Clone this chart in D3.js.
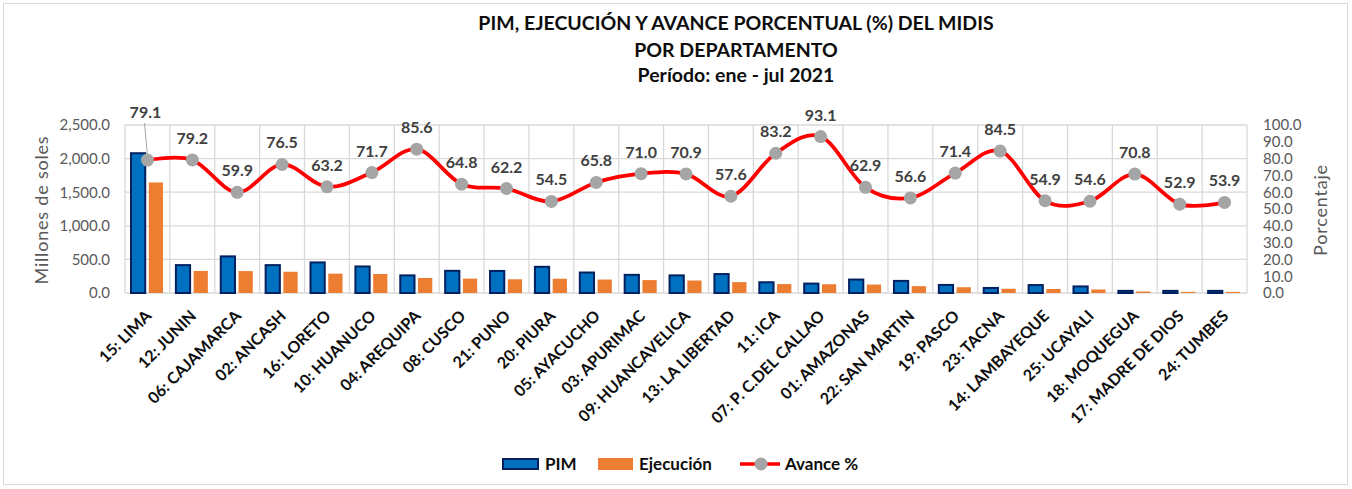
<!DOCTYPE html>
<html>
<head>
<meta charset="utf-8">
<script src="https://cdn.jsdelivr.net/npm/d3@7"></script>
<style>
  body { margin: 0; background: #fff; }
  text { font-family: Lato, "Open Sans", sans-serif; }
</style>
</head>
<body>
<div id="chart"></div>
<script>
var w = 1352;
var h = 489;

var depts = ["15: LIMA", "12: JUNIN", "06: CAJAMARCA", "02: ANCASH", "16: LORETO", "10: HUANUCO",
    "04: AREQUIPA", "08: CUSCO", "21: PUNO", "20: PIURA", "05: AYACUCHO", "03: APURIMAC",
    "09: HUANCAVELICA", "13: LA LIBERTAD", "11: ICA", "07: P. C.DEL CALLAO", "01: AMAZONAS",
    "22: SAN MARTIN", "19: PASCO", "23: TACNA", "14: LAMBAYEQUE", "25: UCAYALI", "18: MOQUEGUA",
    "17: MADRE DE DIOS", "24: TUMBES"];
// millones de soles
var pim = [2080, 415, 545, 415, 455, 395, 262, 330, 328, 390, 305, 270, 262, 282, 160, 140, 200,
    180, 120, 75, 118, 98, 32, 32, 32];
var ejecucion = [1645, 328, 326, 316, 288, 283, 224, 214, 204, 212, 200, 192, 186, 162, 133, 130,
    126, 102, 86, 63, 60, 52, 22, 17, 17];
// porcentaje
var avance = [79.1, 79.2, 59.9, 76.5, 63.2, 71.7, 85.6, 64.8, 62.2, 54.5, 65.8, 71.0, 70.9, 57.6,
    83.2, 93.1, 62.9, 56.6, 71.4, 84.5, 54.9, 54.6, 70.8, 52.9, 53.9];
var leftTicks = [0, 500, 1000, 1500, 2000, 2500];
var rightTicks = [0, 10, 20, 30, 40, 50, 60, 70, 80, 90, 100];
var titleLines = ["PIM, EJECUCIÓN Y AVANCE PORCENTUAL (%) DEL MIDIS", "POR DEPARTAMENTO", "Período: ene - jul 2021"];

var pLeft = 125, pRight = 1247, pTop = 125, pBottom = 293;
var fmtL = d3.format(",.1f");
var fmtR = d3.format(".1f");

var svg = d3.select("#chart").append("svg")
    .attr("width", w)
    .attr("height", h);

// borde del grafico
svg.append("rect")
    .attr("x", 3.5).attr("y", 3.5)
    .attr("width", w - 8).attr("height", h - 8)
    .attr("fill", "none")
    .attr("stroke", "#d9d9d9");

var x = d3.scaleBand().domain(depts).range([pLeft, pRight]);
var xSub = d3.scaleBand().domain(["pim", "eje"]).range([6, 38]).paddingInner(0.2);
var yL = d3.scaleLinear().domain([0, 2500]).range([pBottom, pTop]);
var yR = d3.scaleLinear().domain([0, 100]).range([pBottom, pTop]);

// titulo
svg.selectAll(".title")
    .data(titleLines)
    .enter()
    .append("text")
    .attr("x", 736)
    .attr("y", function(d, i) { return [30, 57, 82][i]; })
    .attr("text-anchor", "middle")
    .attr("font-size", "19.5px")
    .attr("font-weight", "bold")
    .attr("fill", "#0d0d0d")
    .text(function(d) { return d; });

// grilla
svg.selectAll(".hgrid")
    .data(leftTicks)
    .enter()
    .append("line")
    .attr("x1", pLeft).attr("x2", pRight)
    .attr("y1", function(d) { return yL(d); })
    .attr("y2", function(d) { return yL(d); })
    .attr("stroke", "#d9d9d9")
    .attr("stroke-width", 1.3);

var bounds = depts.map(function(d) { return x(d); }).concat([pRight]);
svg.selectAll(".vgrid")
    .data(bounds)
    .enter()
    .append("line")
    .attr("x1", function(d) { return d; })
    .attr("x2", function(d) { return d; })
    .attr("y1", pTop).attr("y2", pBottom)
    .attr("stroke", "#d9d9d9")
    .attr("stroke-width", 1.3);

// etiquetas eje izquierdo
svg.selectAll(".lt")
    .data(leftTicks)
    .enter()
    .append("text")
    .attr("x", 110)
    .attr("y", function(d) { return yL(d); })
    .attr("dy", "0.36em")
    .attr("text-anchor", "end")
    .attr("font-size", "15px")
    .attr("fill", "#595959")
    .text(function(d) { return fmtL(d); });

// etiquetas eje derecho
svg.selectAll(".rt")
    .data(rightTicks)
    .enter()
    .append("text")
    .attr("x", 1263)
    .attr("y", function(d) { return yR(d); })
    .attr("dy", "0.36em")
    .attr("font-size", "15px")
    .attr("fill", "#595959")
    .text(function(d) { return fmtR(d); });

svg.append("text")
    .attr("transform", "translate(48,210) rotate(-90)")
    .attr("text-anchor", "middle")
    .attr("font-size", "18px")
    .attr("letter-spacing", "0.8px")
    .attr("fill", "#595959")
    .text("Millones de soles");

svg.append("text")
    .attr("transform", "translate(1327,210) rotate(-90)")
    .attr("text-anchor", "middle")
    .attr("font-size", "18px")
    .attr("letter-spacing", "0.8px")
    .attr("fill", "#595959")
    .text("Porcentaje");

// barras
var groups = svg.selectAll(".grp")
    .data(depts)
    .enter()
    .append("g")
    .attr("transform", function(d) { return "translate(" + x(d) + ",0)"; });

groups.append("rect")
    .attr("x", xSub("pim"))
    .attr("width", xSub.bandwidth())
    .attr("y", function(d, i) { return yL(pim[i]); })
    .attr("height", function(d, i) { return pBottom - yL(pim[i]); })
    .attr("fill", "#0070c0")
    .attr("stroke", "#002060")
    .attr("stroke-width", 2);

groups.append("rect")
    .attr("x", xSub("eje"))
    .attr("width", xSub.bandwidth())
    .attr("y", function(d, i) { return yL(ejecucion[i]); })
    .attr("height", function(d, i) { return pBottom - yL(ejecucion[i]); })
    .attr("fill", "#ed7d31");

// etiquetas eje x
svg.selectAll(".xl")
    .data(depts)
    .enter()
    .append("text")
    .attr("transform", function(d) {
        return "translate(" + (x(d) + x.bandwidth() / 2 + 5) + ",317) rotate(-45)";
    })
    .attr("text-anchor", "end")
    .attr("font-size", "16px")
    .attr("font-weight", "bold")
    .attr("fill", "#0d0d0d")
    .text(function(d) { return d; });

// linea de avance
var pts = depts.map(function(d, i) { return [x(d) + x.bandwidth() / 2, yR(avance[i])]; });

svg.append("path")
    .attr("d", d3.line().curve(d3.curveCardinal.tension(0))(pts))
    .attr("fill", "none")
    .attr("stroke", "#ff0000")
    .attr("stroke-width", 3.75);

svg.selectAll(".mk")
    .data(pts)
    .enter()
    .append("circle")
    .attr("cx", function(d) { return d[0]; })
    .attr("cy", function(d) { return d[1]; })
    .attr("r", 6.5)
    .attr("fill", "#a5a5a5");

// linea guia para LIMA
svg.append("line")
    .attr("x1", pts[0][0] - 3).attr("y1", 123)
    .attr("x2", pts[0][0]).attr("y2", pts[0][1] - 5)
    .attr("stroke", "#a6a6a6")
    .attr("stroke-width", 1);

svg.selectAll(".dl")
    .data(pts)
    .enter()
    .append("text")
    .attr("x", function(d, i) { return i === 0 ? d[0] - 2 : d[0]; })
    .attr("y", function(d, i) { return i === 0 ? 118 : d[1] - 16; })
    .attr("text-anchor", "middle")
    .attr("font-size", "16px")
    .attr("font-weight", "bold")
    .attr("fill", "#404040")
    .text(function(d, i) { return fmtR(avance[i]); });

// leyenda
var leg = svg.append("g");
leg.append("rect")
    .attr("x", 503).attr("y", 459).attr("width", 35).attr("height", 10)
    .attr("fill", "#0070c0").attr("stroke", "#002060").attr("stroke-width", 2);
leg.append("text").attr("x", 545).attr("y", 470)
    .attr("font-size", "17px").attr("font-weight", "bold").attr("fill", "#0d0d0d").text("PIM");
leg.append("rect")
    .attr("x", 598).attr("y", 458).attr("width", 35).attr("height", 12)
    .attr("fill", "#ed7d31");
leg.append("text").attr("x", 639).attr("y", 470)
    .attr("font-size", "17px").attr("font-weight", "bold").attr("fill", "#0d0d0d").text("Ejecución");
leg.append("line")
    .attr("x1", 740).attr("x2", 780).attr("y1", 464).attr("y2", 464)
    .attr("stroke", "#ff0000").attr("stroke-width", 3.5);
leg.append("circle").attr("cx", 761).attr("cy", 464).attr("r", 6.5).attr("fill", "#a5a5a5");
leg.append("text").attr("x", 785).attr("y", 470)
    .attr("font-size", "17px").attr("font-weight", "bold").attr("fill", "#0d0d0d").text("Avance %");
</script>
</body>
</html>
